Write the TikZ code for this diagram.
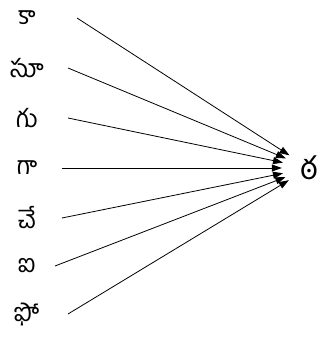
\documentclass[tikz,border=0pt]{standalone}
\usepackage{fontspec}
\newfontfamily\telugu[Script=Telugu]{Hind Guntur}
\usetikzlibrary{positioning, arrows.meta, calc, shapes.geometric}

\begin{document}
\begin{tikzpicture}[
  x=1pt, y=1pt,
  >={Triangle[length=10pt, width=7pt]},
  every node/.style={font=\telugu\fontsize{25}{28}\selectfont},
  lbl/.style  = {inner sep=0pt},
  goal/.style = {ellipse, minimum width=54pt, minimum height=36pt, inner sep=0pt,
                 font=\telugu\fontsize{31}{34}\selectfont},
  arr/.style  = {->, line width=0.8pt, black},
]
  \useasboundingbox (0,0) rectangle (329,338);
  \node[goal] (tha) at (309,170) {ఠ};
  \foreach \n/\t/\y/\s in {ka/కా/18/77, su/సూ/68/68, gu/గు/118/68, ga/గా/168/62,
                           ce/చే/218/62, ai/ఐ/266/55, pho/ఫో/314/68}{
    \node[lbl] (\n) at (27,338-\y) {\t};
    \draw[arr] ([xshift=\s-27]\n.center) -- (tha);
  }
\end{tikzpicture}
\end{document}
